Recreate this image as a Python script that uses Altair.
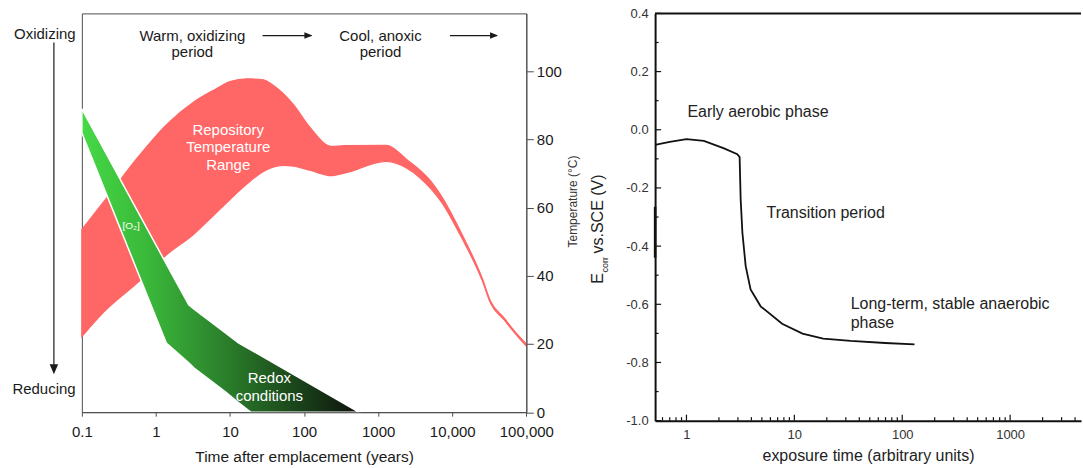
import altair as alt
import pandas as pd

FONT = "Liberation Sans"
RED = "#ff6666"
INK = "#1a1a1a"
GRAY = "#4d4d4d"

# ---------------- left panel: repository temperature band ----------------
temp_t = [0.1, 0.2, 0.586, 1.38, 3.24, 6.17, 10.0, 17.0, 28.2, 37.8, 52.2, 71.9,
          122.7, 233, 358, 1288, 2443, 5164, 7129, 13520, 25700, 32800, 49500, 75200, 100000]
temp_hi = [53.6, 61.9, 75.1, 84.3, 91.0, 94.6, 97.0, 97.8, 97.5, 96.0, 93.5, 90.2,
           83.3, 78.0, 78.2, 78.3, 74.1, 67.7, 63.4, 52.2, 39.0, 32.6, 27.8, 22.9, 20.0]
temp_lo = [22.2, 29.5, 38.3, 46.1, 52.2, 58.0, 62.4, 67.0, 70.6, 71.9, 72.4, 72.2,
           70.9, 69.4, 70.2, 73.6, 71.6, 65.5, 61.7, 51.0, 38.3, 32.0, 27.2, 22.4, 19.4]

# ---------------- left panel: O2 / redox band ----------------
redox_t = [0.1, 1.38, 2.77, 3.24, 8.49, 13.0, 19.0, 548]
redox_hi = [89.0, 43.5, 31.5, 30.3, 23.4, 20.3, 18.3, 0.0]
redox_lo = [81.9, 20.3, 14.5, 13.0, 6.1, 2.8, 0.0, 0.0]

left_x_ticks = [0.1, 1, 10, 100, 1000, 10000, 100000]
left_x_labels = ["0.1", "1", "10", "100", "1000", "10,000", "100,000"]
temp_ticks = [0, 20, 40, 60, 80, 100]

# annotations (data coordinates)
dark_lbl_t = [3.1, 3.1, 1075, 1075]
dark_lbl_v = [110.5, 105.6, 110.5, 105.6]
dark_lbl = ["Warm, oxidizing", "period", "Cool, anoxic", "period"]
white_lbl_t = [9.46, 9.46, 9.46, 34.0, 34.0]
white_lbl_v = [82.9, 77.8, 72.6, 10.1, 4.8]
white_lbl = ["Repository", "Temperature", "Range", "Redox", "conditions"]
arrow_t = [27.5, 9310]
arrow_t2 = [126.0, 40000]
arrow_head_t = [114.3, 36700]
arrow_v = [110.5, 110.5]

# ---------------- right panel: corrosion potential ----------------
ecorr_t = [0.512, 0.7, 1.0, 1.45, 2.23, 2.96, 3.11, 3.18, 3.30, 3.54, 3.93, 4.87,
           7.7, 11.9, 18.5, 33.3, 69.5, 130]
ecorr_v = [-0.052, -0.042, -0.032, -0.038, -0.064, -0.084, -0.094, -0.239, -0.354,
           -0.469, -0.549, -0.607, -0.667, -0.701, -0.718, -0.726, -0.733, -0.738]
edge_t = [0.512, 0.512]
edge_v = [-0.265, -0.44]

right_x_major = [1, 10, 100, 1000]
right_x_minor = [0.6, 0.7, 0.8, 0.9, 2, 3, 4, 5, 6, 7, 8, 9, 20, 30, 40, 50, 60, 70, 80, 90,
                 200, 300, 400, 500, 600, 700, 800, 900, 2000, 3000, 4000]
right_y_major = [-1.0, -0.8, -0.6, -0.4, -0.2, 0.0, 0.2, 0.4]
right_y_minor = [-0.9, -0.7, -0.5, -0.3, -0.1, 0.1, 0.3]

note_t = [1.02, 5.52, 33.3, 33.3]
note_v = [0.06, -0.285, -0.598, -0.664]
note_lbl = ["Early aerobic phase", "Transition period", "Long-term, stable anaerobic", "phase"]

# ---------------- geometry ----------------
LW, LH = 445.3, 399.5
RW, RH = 426.7, 408

one = pd.DataFrame({"k": [0]})


def ptext(txt, x, y, size=15, color=INK, align="center", baseline="middle", angle=0):
    kw = dict(text=txt, font=FONT, fontSize=size, color=color, align=align, baseline=baseline)
    if angle:
        kw["angle"] = angle
    return alt.Chart(one).mark_text(**kw).encode(x=alt.value(x), y=alt.value(y))


# label expression for left x axis
expr = "''"
for v, lab in reversed(list(zip(left_x_ticks, left_x_labels))):
    expr = f"datum.value < {v * 3} ? '{lab}' : ({expr})"

XT_L = "Time after emplacement (years)"
xs_left = alt.Scale(type="log", domain=[0.1, 100000], nice=False)
ys_left = alt.Scale(domain=[0, 117], nice=False, zero=False)
xax_left = alt.Axis(values=left_x_ticks, labelExpr=expr, labelFlush=False,
                    labelFontSize=15, labelColor=INK, labelPadding=8,
                    tickSize=4, tickColor=GRAY, domainColor=GRAY, grid=False,
                    titleFontSize=15.5, titleFontWeight="normal", titleColor=INK,
                    titlePadding=10, zindex=1)
yax_left = alt.Axis(orient="right", values=temp_ticks, format="d", labelFontSize=15,
                    labelColor=INK, labelPadding=3, tickSize=7, tickColor=GRAY,
                    domainColor=GRAY, grid=False, zindex=1)


def LX(f):
    return alt.X(f, scale=xs_left, axis=xax_left, title=XT_L)


def LY(f):
    return alt.Y(f, scale=ys_left, axis=yax_left, title="")


temp_df = pd.DataFrame({"t": temp_t, "hi": temp_hi, "lo": temp_lo})
redox_df = pd.DataFrame({"t": redox_t, "hi": redox_hi, "lo": redox_lo})

red_band = alt.Chart(temp_df).mark_area(color=RED, stroke=RED, strokeWidth=1.2,
                                        interpolate="monotone").encode(
    x=LX("t:Q"), y=LY("hi:Q"), y2="lo:Q")

green = alt.Gradient(
    gradient="linear",
    stops=[alt.GradientStop(color="#46d946", offset=0),
           alt.GradientStop(color="#39b639", offset=0.25),
           alt.GradientStop(color="#2c832c", offset=0.5),
           alt.GradientStop(color="#1c4a1c", offset=0.75),
           alt.GradientStop(color="#0e120e", offset=1)],
    x1=0, x2=1, y1=0, y2=0,
)
green_band = alt.Chart(redox_df).mark_area(color=green, stroke="white", strokeWidth=1.5).encode(
    x=LX("t:Q"), y=LY("hi:Q"), y2="lo:Q")

dark_txt = alt.Chart(pd.DataFrame({"t": dark_lbl_t, "v": dark_lbl_v, "s": dark_lbl})).mark_text(
    font=FONT, fontSize=15, color=INK, baseline="middle").encode(
    x=LX("t:Q"), y=LY("v:Q"), text="s:N")
white_txt = alt.Chart(pd.DataFrame({"t": white_lbl_t, "v": white_lbl_v, "s": white_lbl})).mark_text(
    font=FONT, fontSize=15, color="white", baseline="middle").encode(
    x=LX("t:Q"), y=LY("v:Q"), text="s:N")
o2_txt = alt.Chart(pd.DataFrame({"t": [0.463], "v": [54.6], "s": ["[O\u2082]"]})).mark_text(
    font=FONT, fontSize=10, color="white", baseline="middle").encode(
    x=LX("t:Q"), y=LY("v:Q"), text="s:N")

arr_df = pd.DataFrame({"t": arrow_t, "t2": arrow_t2, "h": arrow_head_t, "v": arrow_v})
arr_line = alt.Chart(arr_df).mark_rule(color=INK, strokeWidth=1.2).encode(
    x=LX("t:Q"), x2="t2:Q", y=LY("v:Q"))
arr_head = alt.Chart(arr_df).mark_point(shape="M-1,-0.8L1,0L-1,0.8Z", size=64, filled=True,
                                        color=INK, opacity=1, strokeWidth=0).encode(
    x=LX("h:Q"), y=LY("v:Q"))

side_line = alt.Chart(one).mark_rule(color=INK, strokeWidth=1.2).encode(
    x=alt.value(-28), y=alt.value(29.2), y2=alt.value(354))
side_head = alt.Chart(one).mark_point(shape="M-0.85,-1L0.85,-1L0,1Z", size=100, filled=True,
                                      color=INK, opacity=1, strokeWidth=0).encode(
    x=alt.value(-28), y=alt.value(356.5))

left = alt.layer(
    red_band, green_band, dark_txt, white_txt, o2_txt, arr_line, arr_head, side_line, side_head,
    ptext("Oxidizing", -6.2, 20.5, align="right"),
    ptext("Reducing", -6.2, 376.5, align="right"),
    ptext("Temperature (\u00b0C)", 496.3, 188.5, size=12, color="#333333",
          baseline="alphabetic", angle=270),
).properties(width=LW, height=LH)

# ---------------- right chart ----------------
XT_R = "exposure time (arbitrary units)"
xs_right = alt.Scale(type="log", domain=[0.512, 4540], nice=False)
ys_right = alt.Scale(domain=[-1.0, 0.4], nice=False, zero=False)
xax_right = alt.Axis(values=right_x_major, format="d", labelFlush=False, labelFontSize=13,
                     labelColor="#333333", labelPadding=8, ticks=False,
                     domainColor="#111111", domainWidth=2, grid=False,
                     titleFontSize=16, titleFontWeight="normal", titleColor="#222222",
                     titlePadding=6, zindex=1)
yax_right = alt.Axis(values=right_y_major,
                     labelExpr="(datum.value < -0.001 ? '-' : '') + format(abs(datum.value), '.1f')",
                     labelFontSize=13, labelColor="#333333", labelPadding=7, ticks=False,
                     domainColor="#111111", domainWidth=2, grid=False, zindex=1)


def RX(f):
    return alt.X(f, scale=xs_right, axis=xax_right, title=XT_R)


def RY(f):
    return alt.Y(f, scale=ys_right, axis=yax_right, title="")


curve = alt.Chart(pd.DataFrame({"t": ecorr_t, "v": ecorr_v})).mark_line(
    color="#111111", strokeWidth=1.8).encode(x=RX("t:Q"), y=RY("v:Q"))
edge = alt.Chart(pd.DataFrame({"t": edge_t, "v": edge_v})).mark_line(
    color="#111111", strokeWidth=2.5).encode(x=RX("t:Q"), y=RY("v:Q"))

top_rule = alt.Chart(pd.DataFrame({"v": [0.4]})).mark_rule(color="#111111", strokeWidth=2).encode(
    y=RY("v:Q"))

ymaj = alt.Chart(pd.DataFrame({"v": right_y_major})).mark_rule(color="#111111", strokeWidth=1.2).encode(
    y=RY("v:Q"), x=alt.value(0), x2=alt.value(6))
ymin = alt.Chart(pd.DataFrame({"v": right_y_minor})).mark_rule(color="#111111", strokeWidth=1.2).encode(
    y=RY("v:Q"), x=alt.value(0), x2=alt.value(3.5))
xmaj = alt.Chart(pd.DataFrame({"t": right_x_major})).mark_rule(color="#111111", strokeWidth=1.2).encode(
    x=RX("t:Q"), y=alt.value(RH), y2=alt.value(RH - 6))
xmin = alt.Chart(pd.DataFrame({"t": right_x_minor})).mark_rule(color="#111111", strokeWidth=1.2).encode(
    x=RX("t:Q"), y=alt.value(RH), y2=alt.value(RH - 3.5))

notes = alt.Chart(pd.DataFrame({"t": note_t, "v": note_v, "s": note_lbl})).mark_text(
    font=FONT, fontSize=16, color="#222222", align="left", baseline="middle").encode(
    x=RX("t:Q"), y=RY("v:Q"), text="s:N")

right = alt.layer(
    curve, edge, top_rule, ymaj, ymin, xmaj, xmin, notes,
    ptext("E", -52.6, 270.8, size=16, color="#222222", align="left", baseline="alphabetic", angle=270),
    ptext("corr", -47.6, 259.5, size=9, color="#222222", align="left", baseline="alphabetic", angle=270),
    ptext("vs.SCE (V)", -52.6, 240.5, size=16, color="#222222", align="left", baseline="alphabetic", angle=270),
).properties(width=RW, height=RH, view=alt.ViewBackground(stroke="transparent"))

chart = alt.hconcat(left, right, spacing=128.3, bounds="flush").properties(
    padding={"left": 11, "top": 6, "right": 0, "bottom": 0}
).configure(font=FONT).configure_view(stroke=GRAY, strokeWidth=1)

chart.save("out.html", embed_options={"renderer": "svg", "actions": False})
